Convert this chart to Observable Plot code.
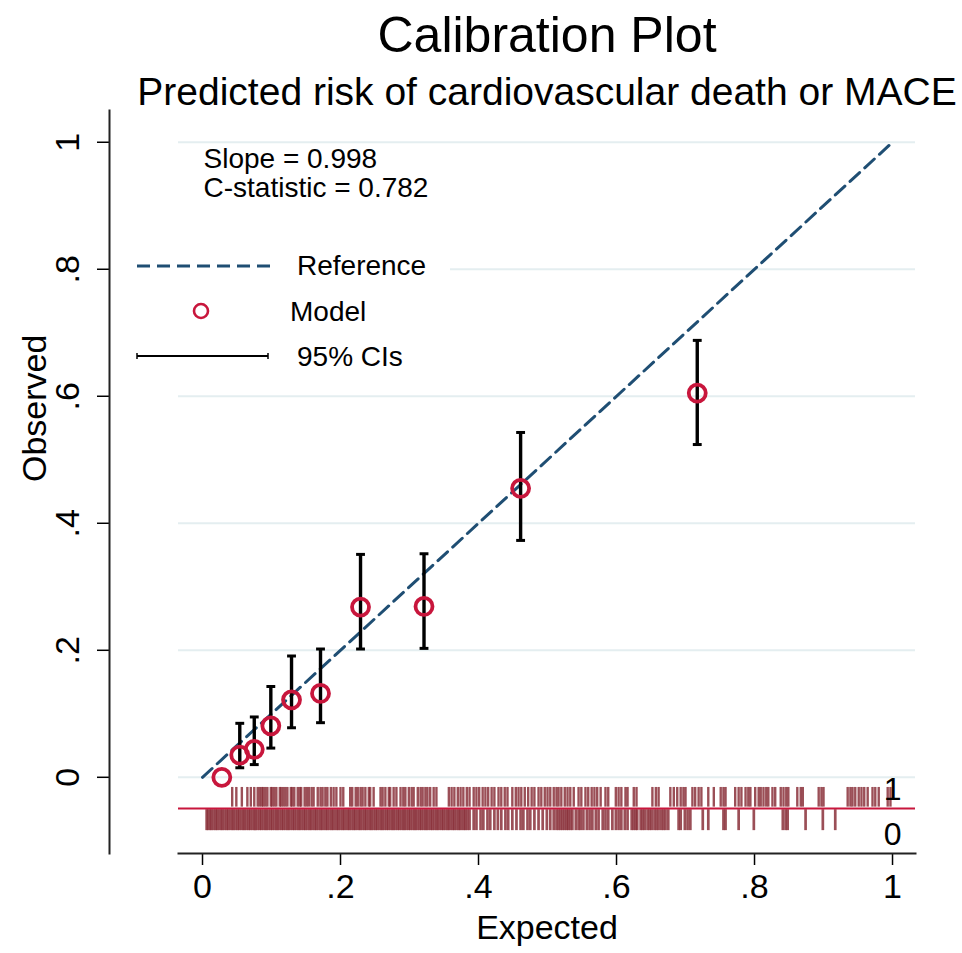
<!DOCTYPE html>
<html>
<head>
<meta charset="utf-8">
<script src="https://cdn.jsdelivr.net/npm/d3@7"></script>
<script src="https://cdn.jsdelivr.net/npm/@observablehq/plot@0.6"></script>
<style>
  body { margin: 0; background: #fff; font-family: "Liberation Sans", Arial, Helvetica, sans-serif; color: #000; }
  #wrap { position: relative; width: 962px; height: 953px; overflow: hidden; }
  #title { position: absolute; left: 132px; width: 830px; top: 0; height: 70px; line-height: 70px; text-align: center; font-size: 50px; white-space: nowrap; }
  #subtitle { position: absolute; left: 132px; width: 830px; top: 67px; height: 50px; line-height: 50px; text-align: center; font-size: 39px; white-space: nowrap; }
  #chart { position: absolute; left: 0; top: 105px; }
  #legend { position: absolute; left: 128px; top: 240px; width: 322px; height: 140px; background: #fff; }
  #legend svg { position: absolute; left: 0; top: 0; }
  #legend .lab { position: absolute; font-size: 28px; line-height: 32px; white-space: nowrap; }
</style>
</head>
<body>
<div id="wrap">
  <div id="title">Calibration Plot</div>
  <div id="subtitle">Predicted risk of cardiovascular death or MACE</div>
  <div id="chart"></div>
  <div id="legend">
    <svg width="322" height="140">
      <line x1="9" x2="142" y1="26" y2="26" stroke="#1f4e73" stroke-width="3" stroke-dasharray="13,7"></line>
      <circle cx="73" cy="71" r="7" fill="none" stroke="#c8163c" stroke-width="2.6"></circle>
      <line x1="9" x2="140" y1="116" y2="116" stroke="#000" stroke-width="2"></line>
      <line x1="9" x2="9" y1="113" y2="119" stroke="#000" stroke-width="1.5"></line>
      <line x1="140" x2="140" y1="113" y2="119" stroke="#000" stroke-width="1.5"></line>
    </svg>
    <div class="lab" id="lab1" style="left:169px;top:10px;"></div>
    <div class="lab" id="lab2" style="left:162px;top:56px;"></div>
    <div class="lab" id="lab3" style="left:169px;top:101px;"></div>
  </div>
</div>
<script>
// ---------- data ----------
const xTicks = [0, 0.2, 0.4, 0.6, 0.8, 1];
const xTickLabels = ["0", ".2", ".4", ".6", ".8", "1"];
const yTicks = [0, 0.2, 0.4, 0.6, 0.8, 1];
const yTickLabels = ["0", ".2", ".4", ".6", ".8", "1"];

const expected = [0.028, 0.054, 0.075, 0.099, 0.129, 0.171, 0.229, 0.321, 0.461, 0.717];
const observed = [0.000, 0.035, 0.044, 0.081, 0.122, 0.132, 0.268, 0.269, 0.455, 0.605];
const ciLower  = [null, 0.015, 0.020, 0.046, 0.078, 0.086, 0.202, 0.203, 0.373, 0.524];
const ciUpper  = [null, 0.085, 0.095, 0.143, 0.191, 0.202, 0.351, 0.352, 0.543, 0.688];

const referenceX = [0, 1];
const referenceY = [0, 1];

const legendLabels = ["Reference", "Model", "95% CIs"];
const statsLines = ["Slope = 0.998", "C-statistic = 0.782"];
const xLabel = "Expected";
const yLabel = "Observed";
const rugLabels = ["1", "0"];

// predicted risk of patients with the outcome (1) and without (0)
const rugEvents = [0.043,0.049,0.057,0.065,0.070,0.075,0.080,0.083,0.086,0.088,0.091,0.094,0.099,0.101,0.104,0.107,0.112,0.114,0.117,0.120,0.123,0.128,0.130,0.133,0.138,0.141,0.143,0.148,0.151,0.154,0.158,0.161,0.167,0.171,0.174,0.178,0.181,0.186,0.190,0.194,0.200,0.204,0.214,0.217,0.222,0.225,0.229,0.232,0.236,0.241,0.243,0.248,0.258,0.261,0.265,0.270,0.272,0.277,0.281,0.287,0.291,0.294,0.299,0.303,0.306,0.312,0.316,0.319,0.323,0.326,0.330,0.335,0.339,0.357,0.361,0.365,0.370,0.374,0.378,0.383,0.387,0.393,0.397,0.401,0.406,0.410,0.414,0.419,0.423,0.429,0.433,0.438,0.442,0.449,0.454,0.458,0.462,0.467,0.472,0.477,0.481,0.487,0.491,0.496,0.500,0.504,0.509,0.513,0.516,0.520,0.525,0.529,0.533,0.538,0.545,0.549,0.555,0.559,0.564,0.568,0.572,0.577,0.584,0.588,0.599,0.603,0.607,0.613,0.616,0.625,0.629,0.652,0.657,0.661,0.678,0.683,0.688,0.693,0.697,0.700,0.710,0.714,0.719,0.723,0.733,0.741,0.751,0.755,0.758,0.772,0.777,0.781,0.787,0.791,0.794,0.801,0.806,0.809,0.813,0.817,0.820,0.826,0.830,0.838,0.842,0.846,0.849,0.862,0.867,0.870,0.893,0.897,0.900,0.935,0.939,0.942,0.946,0.951,0.955,0.959,0.964,0.971,0.975,0.980,0.993,0.997];

const rugNonEvents = [0.006,0.008,0.011,0.013,0.016,0.019,0.021,0.024,0.027,0.029,0.032,0.035,0.037,0.040,0.043,0.045,0.048,0.051,0.053,0.056,0.059,0.061,0.064,0.067,0.069,0.072,0.075,0.077,0.080,0.083,0.085,0.088,0.091,0.093,0.096,0.099,0.101,0.104,0.107,0.109,0.112,0.115,0.117,0.120,0.123,0.125,0.128,0.131,0.133,0.136,0.139,0.141,0.144,0.147,0.149,0.152,0.155,0.157,0.160,0.163,0.165,0.168,0.171,0.173,0.176,0.179,0.181,0.184,0.187,0.189,0.192,0.195,0.197,0.200,0.203,0.205,0.208,0.211,0.213,0.216,0.219,0.221,0.224,0.227,0.229,0.232,0.235,0.237,0.240,0.243,0.245,0.248,0.251,0.253,0.256,0.259,0.261,0.264,0.267,0.269,0.272,0.275,0.277,0.280,0.283,0.285,0.288,0.291,0.293,0.296,0.299,0.301,0.304,0.307,0.309,0.312,0.315,0.317,0.320,0.323,0.325,0.328,0.331,0.333,0.336,0.339,0.341,0.344,0.347,0.349,0.352,0.355,0.357,0.360,0.363,0.365,0.368,0.371,0.373,0.376,0.379,0.381,0.384,0.387,0.393,0.397,0.403,0.407,0.413,0.417,0.423,0.428,0.433,0.439,0.443,0.449,0.455,0.461,0.465,0.471,0.475,0.481,0.487,0.493,0.499,0.504,0.509,0.513,0.516,0.519,0.522,0.525,0.528,0.530,0.533,0.536,0.541,0.545,0.548,0.552,0.557,0.561,0.565,0.570,0.574,0.580,0.584,0.588,0.594,0.599,0.603,0.607,0.612,0.616,0.622,0.625,0.628,0.630,0.635,0.638,0.641,0.645,0.648,0.651,0.655,0.658,0.661,0.665,0.668,0.671,0.675,0.690,0.693,0.699,0.703,0.707,0.725,0.733,0.755,0.758,0.777,0.799,0.841,0.845,0.848,0.874,0.899,0.917];

// ---------- styling constants ----------
const FONT = "Liberation Sans, Arial, Helvetica, sans-serif";
const RED = "#c8163c";
const NAVY = "#1f4e73";
const RUG = "#8a3039";
// rug rows (in y units below the 0 line)
const rowEvent = {y1: -0.016, y2: -0.047};
const rowNonEvent = {y1: -0.051, y2: -0.084};
const rugBase = -0.049;
const rugLabelY = [-0.019, -0.091];

document.getElementById("lab1").textContent = legendLabels[0];
document.getElementById("lab2").textContent = legendLabels[1];
document.getElementById("lab3").textContent = legendLabels[2];

const points = expected.map((e, i) => ({e, o: observed[i], lo: ciLower[i], hi: ciUpper[i]}));
const ciPoints = points.filter(d => d.lo != null);
const refLine = referenceX.map((x, i) => ({x, y: referenceY[i]}));
const rugLabelRows = rugLabels.map((t, i) => ({t, x: xTicks[xTicks.length - 1], y: rugLabelY[i]}));

const capSymbol = {
  draw(context, size) {
    const w = Math.sqrt(size) / 2;
    context.moveTo(-w, 0);
    context.lineTo(w, 0);
  }
};

const chart = Plot.plot({
  width: 962,
  height: 848,
  marginLeft: 178,
  marginRight: 47,
  marginTop: 5,
  marginBottom: 100,
  x: {domain: [-0.0348, 1.0333]},
  y: {domain: [-0.12, 1.05]},
  style: {fontFamily: FONT, background: "#fff", color: "#000", overflow: "visible"},
  marks: [
    Plot.gridY(yTicks, {stroke: "#e4eef0", strokeOpacity: 1, strokeWidth: 2}),
    // rug spikes
    Plot.ruleX(rugNonEvents, {x: d => d, ...rowNonEvent, stroke: RUG, strokeOpacity: 0.85, strokeWidth: 2.7, shapeRendering: "geometricPrecision"}),
    Plot.ruleX(rugEvents, {x: d => d, ...rowEvent, stroke: RUG, strokeOpacity: 0.85, strokeWidth: 2.4, shapeRendering: "geometricPrecision"}),
    Plot.ruleY([rugBase], {stroke: RED, strokeWidth: 2}),
    Plot.text(rugLabelRows, {x: "x", y: "y", text: "t", fontSize: 32, fill: "#000"}),
    // reference line
    Plot.line(refLine, {x: "x", y: "y", stroke: NAVY, strokeWidth: 3, strokeDasharray: "13,7"}),
    // CIs
    Plot.ruleX(ciPoints, {x: "e", y1: "lo", y2: "hi", stroke: "#000", strokeWidth: 3.4}),
    Plot.dot(ciPoints, {x: "e", y: "lo", symbol: capSymbol, r: 5, stroke: "#000", strokeWidth: 3}),
    Plot.dot(ciPoints, {x: "e", y: "hi", symbol: capSymbol, r: 5, stroke: "#000", strokeWidth: 3}),
    // model points
    Plot.dot(points, {x: "e", y: "o", r: 8.5, stroke: RED, strokeWidth: 3.8, fill: "none"}),
    // stats annotation
    Plot.text([statsLines.join("\n")], {text: d => d, frameAnchor: "top-left", dx: 25, dy: 37, textAnchor: "start", lineAnchor: "top", fontSize: 28, lineHeight: 1.04, fill: "#000"}),
    // axes
    Plot.axisX(xTicks, {anchor: "bottom", tickSize: 12, tickPadding: 8, strokeWidth: 1.5, fontSize: 34, tickFormat: d => xTickLabels[xTicks.indexOf(d)], label: null}),
    Plot.frame({anchor: "bottom", strokeWidth: 2, stroke: "#222"}),
    Plot.axisY(yTicks, {anchor: "left", dx: -69, tickSize: 12, tickPadding: 19, tickRotate: -90, strokeWidth: 1.5, fontSize: 34, tickFormat: d => yTickLabels[yTicks.indexOf(d)], label: null}),
    Plot.frame({anchor: "left", dx: -69, strokeWidth: 2, stroke: "#222"}),
    Plot.text([xLabel], {text: d => d, frameAnchor: "bottom", dy: 75, fontSize: 34, lineAnchor: "middle", fill: "#000"}),
    Plot.text([yLabel], {text: d => d, frameAnchor: "left", dx: -143, rotate: -90, fontSize: 34, lineAnchor: "middle", fill: "#000"})
  ]
});
document.getElementById("chart").appendChild(chart);
</script>
</body>
</html>
